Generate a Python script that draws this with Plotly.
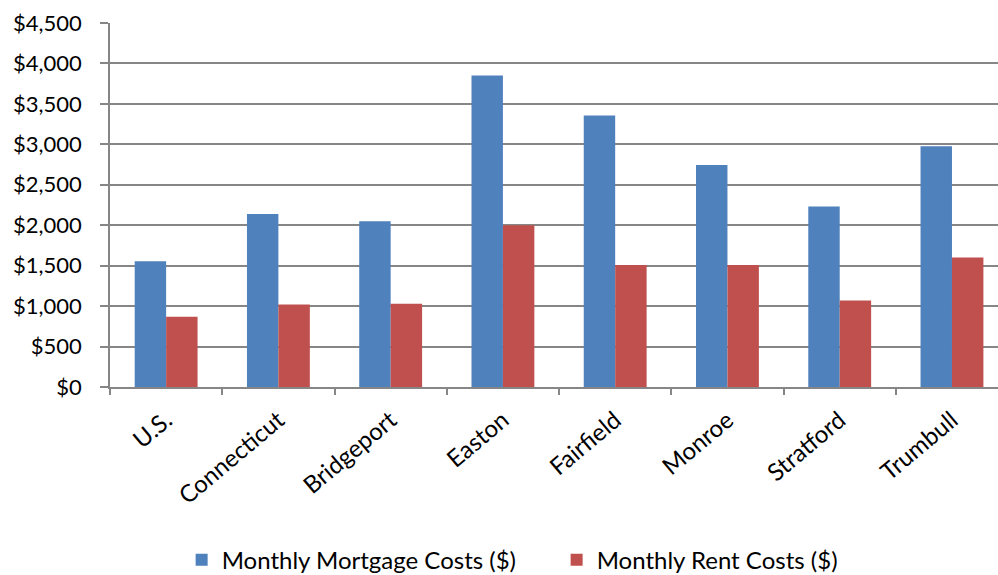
import plotly.graph_objects as go

categories = ["U.S.", "Connecticut", "Bridgeport", "Easton", "Fairfield", "Monroe", "Stratford", "Trumbull"]
mortgage = [1555, 2140, 2050, 3850, 3355, 2745, 2230, 2975]
rent = [868, 1020, 1028, 2000, 1508, 1508, 1068, 1600]
y_ticks = [0, 500, 1000, 1500, 2000, 2500, 3000, 3500, 4000, 4500]
y_tick_labels = ["$0", "$500", "$1,000", "$1,500", "$2,000", "$2,500", "$3,000", "$3,500", "$4,000", "$4,500"]

FONT = "Lato"

fig = go.Figure()
fig.add_trace(go.Bar(x=categories, y=mortgage, name="Monthly Mortgage Costs ($)",
                     marker=dict(color="#4F81BD", line=dict(width=0))))
fig.add_trace(go.Bar(x=categories, y=rent, name="Monthly Rent Costs ($)",
                     marker=dict(color="#C0504D", line=dict(width=0))))

fig.update_layout(
    width=998, height=575,
    margin=dict(l=110, r=0, t=22.5, b=187.5, autoexpand=False),
    plot_bgcolor="white", paper_bgcolor="white",
    barmode="group", bargap=0.44, bargroupgap=0,
    font=dict(family=FONT, size=22, color="black"),
    showlegend=True,
    legend=dict(orientation="h", xref="container", yref="container",
                x=0.182, xanchor="left", y=0.026, yanchor="middle",
                entrywidth=330, entrywidthmode="pixels",
                font=dict(family=FONT, size=24, color="black"),
                itemsizing="constant", traceorder="normal"),
)
fig.update_xaxes(
    range=[-0.5, 7.41], showline=True, linecolor="#868686", linewidth=1.5,
    ticks="outside", ticklen=6, tickcolor="#868686", tickwidth=1.5,
    tickson="boundaries", tickangle=-40, showgrid=False, automargin=False,
    ticklabelstandoff=8,
    tickfont=dict(family=FONT, size=24, color="black"),
)
fig.update_yaxes(
    range=[0, 4500], tickvals=y_ticks, ticktext=y_tick_labels,
    showline=True, linecolor="#868686", linewidth=1.5,
    ticks="outside", ticklen=8, tickcolor="#868686", tickwidth=1.5,
    showgrid=True, gridcolor="#868686", gridwidth=1.5, zeroline=False,
    automargin=False, ticklabelstandoff=14,
    tickfont=dict(family=FONT, size=22, color="black"),
)

fig.write_html("out.html", config={"displayModeBar": False},
               post_script="document.body.style.margin='0px';document.body.style.overflow='hidden';")
